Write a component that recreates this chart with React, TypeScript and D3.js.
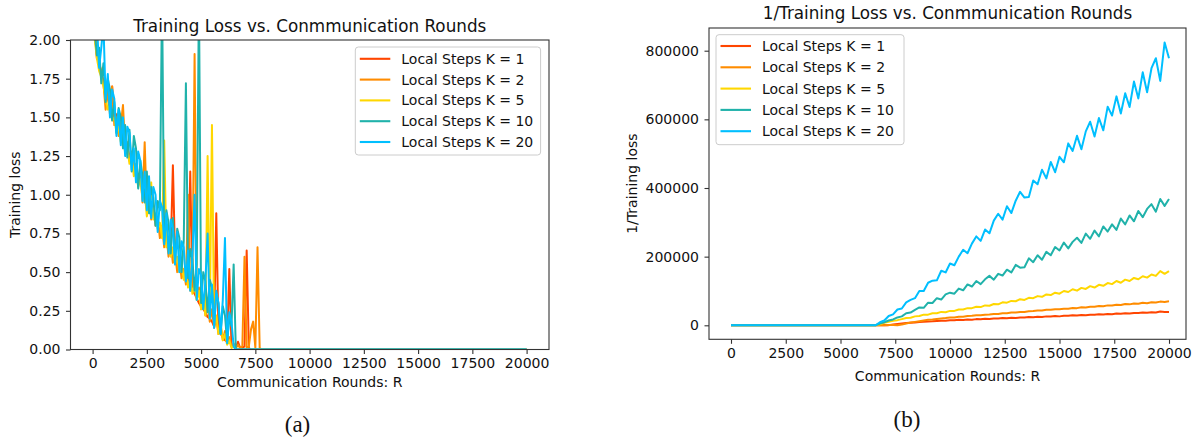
import * as d3 from "d3";
import { useRef, useEffect } from "react";

// series names + colours (matplotlib named colours)
const seriesLabels = [
  "Local Steps K = 1",
  "Local Steps K = 2",
  "Local Steps K = 5",
  "Local Steps K = 10",
  "Local Steps K = 20",
];
const seriesColors = ["#ff4500", "#ff8c00", "#ffd700", "#20b2aa", "#00bfff"];

const roundTicks = [0, 2500, 5000, 7500, 10000, 12500, 15000, 17500, 20000];
const lossTicks = [0, 0.25, 0.5, 0.75, 1, 1.25, 1.5, 1.75, 2];
const invTicks = [0, 200000, 400000, 600000, 800000];

// (a) training loss, sampled every 100 rounds up to 7900, then the flat tail
const lossRounds = [
  0, 100, 200, 300, 400, 500, 600, 700, 800, 900,
  1000, 1100, 1200, 1300, 1400, 1500, 1600, 1700, 1800, 1900,
  2000, 2100, 2200, 2300, 2400, 2500, 2600, 2700, 2800, 2900,
  3000, 3100, 3200, 3300, 3400, 3500, 3600, 3700, 3800, 3900,
  4000, 4100, 4200, 4300, 4400, 4500, 4600, 4700, 4800, 4900,
  5000, 5100, 5200, 5300, 5400, 5500, 5600, 5700, 5800, 5900,
  6000, 6100, 6200, 6300, 6400, 6500, 6600, 6700, 6800, 6900,
  7000, 7100, 7200, 7300, 7400, 7500, 7600, 7700, 7800, 7900,
  20000,
];
const lossK1 = [
  2.3, 2.05, 1.88, 1.86, 1.78, 1.74, 1.62, 1.65, 1.55, 1.7,
  1.48, 1.52, 1.4, 1.42, 1.36, 1.32, 1.3, 1.25, 1.22, 1.18,
  1.14, 1.1, 1.08, 1.04, 1.0, 1.05, 0.94, 0.9, 0.88, 0.84,
  0.82, 0.78, 0.76, 0.72, 0.7, 0.66, 0.64, 1.19, 0.6, 0.56,
  0.54, 0.5, 0.48, 0.45, 0.42, 1.15, 0.38, 0.36, 0.33, 0.3,
  0.28, 0.26, 0.24, 0.21, 0.2, 0.18, 0.15, 0.88, 0.12, 0.1,
  0.08, 0.06, 0.05, 0.52, 0.03, 0.02, 0.01, 0.05, 0.01, 0.01,
  0.02, 0.64, 0.01, 0, 0, 0, 0, 0, 0, 0,
  0,
];
const lossK2 = [
  2.35, 2.1, 1.9, 1.85, 1.8, 1.72, 1.55, 1.68, 1.52, 1.7,
  1.45, 1.5, 1.38, 1.45, 1.58, 1.3, 1.34, 1.22, 1.28, 1.16,
  1.2, 1.06, 1.15, 0.95, 1.34, 0.9, 0.98, 0.84, 0.92, 0.8,
  0.85, 0.72, 0.8, 0.66, 0.74, 0.6, 0.68, 0.56, 0.62, 0.5,
  0.58, 0.46, 0.52, 0.42, 1.0, 0.38, 0.44, 1.91, 0.32, 0.4,
  0.26, 0.34, 0.22, 0.3, 0.18, 0.26, 0.14, 0.2, 0.1, 0.16,
  0.06, 0.12, 0.04, 0.08, 0.02, 0.04, 0.01, 0.03, 0.01, 0.02,
  0.6, 0.01, 0.02, 0.13, 0.18, 0.01, 0.66, 0.01, 0, 0,
  0,
];
const lossK5 = [
  2.3, 2.0, 1.88, 1.8, 1.76, 1.7, 1.62, 1.55, 1.58, 1.48,
  1.5, 1.4, 1.44, 1.34, 1.38, 1.27, 1.3, 1.2, 1.25, 1.12,
  1.18, 1.05, 1.1, 0.98, 1.02, 0.86, 0.95, 1.08, 0.84, 0.88,
  0.78, 0.82, 0.72, 1.35, 0.66, 0.72, 0.6, 0.66, 0.55, 0.6,
  0.5, 0.56, 0.45, 0.52, 0.4, 0.46, 0.36, 0.42, 0.32, 0.38,
  0.26, 0.33, 0.22, 1.25, 0.2, 1.45, 0.15, 0.22, 0.1, 0.16,
  0.06, 0.1, 0.03, 0.06, 0.01, 0.02, 0, 0, 0, 0,
  0, 0, 0, 0, 0, 0, 0, 0, 0, 0,
  0,
];
const lossK10 = [
  2.3, 2.05, 1.9, 1.95, 1.72, 1.85, 1.6, 1.75, 1.68, 1.48,
  1.6, 1.4, 1.56, 1.5, 1.3, 1.45, 1.24, 1.42, 1.15, 1.38,
  1.3, 1.04, 1.22, 1.12, 0.95, 1.15, 0.88, 1.05, 0.98, 0.8,
  0.96, 0.9, 2.3, 0.7, 0.9, 0.82, 0.62, 0.85, 0.58, 0.78,
  0.72, 0.5, 0.7, 1.72, 0.46, 0.65, 0.58, 0.38, 0.55, 2.3,
  0.3, 0.5, 0.44, 0.24, 0.45, 0.4, 0.16, 0.36, 0.3, 0.1,
  0.28, 0.22, 0.05, 0.2, 0.15, 0.55, 0, 0, 0, 0,
  0, 0, 0, 0, 0, 0, 0, 0, 0, 0,
  0,
];
const lossK20 = [
  2.4, 2.2, 2.1, 1.82, 1.95, 2.1, 1.62, 1.78, 1.5, 1.68,
  1.62, 1.38, 1.55, 1.32, 1.5, 1.25, 1.44, 1.4, 1.16, 1.3,
  1.08, 1.28, 1.22, 0.96, 1.15, 0.9, 1.12, 0.85, 1.05, 1.0,
  0.76, 0.96, 0.92, 0.68, 0.88, 0.62, 0.84, 0.78, 0.55, 0.76,
  0.5, 0.7, 0.66, 0.44, 0.64, 0.38, 0.6, 1.0, 0.32, 0.52,
  0.48, 0.26, 0.45, 0.75, 0.2, 0.42, 0.14, 0.38, 0.3, 0.1,
  0.32, 0.72, 0.04, 0.24, 0.18, 0.02, 0, 0, 0, 0,
  0, 0, 0, 0, 0, 0, 0, 0, 0, 0,
  0,
];

// (b) 1/training loss, flat until ~6600 then sampled every 200 rounds
const invRounds = [
  0,
  6600, 6800, 7000, 7200, 7400, 7600, 7800, 8000, 8200, 8400,
  8600, 8800, 9000, 9200, 9400, 9600, 9800, 10000, 10200, 10400,
  10600, 10800, 11000, 11200, 11400, 11600, 11800, 12000, 12200, 12400,
  12600, 12800, 13000, 13200, 13400, 13600, 13800, 14000, 14200, 14400,
  14600, 14800, 15000, 15200, 15400, 15600, 15800, 16000, 16200, 16400,
  16600, 16800, 17000, 17200, 17400, 17600, 17800, 18000, 18200, 18400,
  18600, 18800, 19000, 19200, 19400, 19600, 19800, 20000,
];
const invK1 = [
  0,
  0, 300, 800, 500, 2000, 3500, 5000, 6500, 7500, 8500,
  9500, 10000, 11000, 11500, 12500, 13000, 13500, 14500, 14500, 16000,
  15500, 17000, 16500, 18000, 17500, 19000, 18500, 20000, 19500, 21000,
  20500, 22000, 21500, 23000, 22500, 24000, 23500, 25000, 24500, 26000,
  25500, 27000, 26000, 28000, 27500, 29000, 28500, 30000, 29500, 31000,
  30500, 32000, 31500, 33000, 32500, 34500, 33500, 35000, 34500, 36000,
  35500, 37000, 36500, 38000, 37500, 40000, 38500, 39000,
];
const invK2 = [
  0,
  0, 500, 200, 1000, 600, 300, 2000, 5000, 8000, 10000,
  12000, 14000, 16000, 17000, 18500, 20000, 21000, 22500, 23000, 25000,
  25000, 27000, 27500, 29000, 29000, 31000, 31500, 33000, 33000, 35000,
  35000, 37000, 37000, 39000, 39000, 41000, 41500, 43000, 43000, 45000,
  45000, 47000, 47000, 48500, 48500, 50500, 50000, 52500, 52000, 54000,
  54000, 56000, 55500, 58000, 57500, 60000, 59000, 62000, 61000, 63500,
  63000, 65500, 64500, 67000, 66500, 69000, 68000, 70000,
];
const invK5 = [
  0,
  0, 3000, 7000, 10000, 13000, 15000, 18000, 21000, 22000, 26000,
  27000, 31000, 31000, 35000, 35000, 39000, 38000, 42000, 42000, 46000,
  46000, 50000, 50000, 54000, 53000, 58000, 57000, 62000, 61000, 67000,
  66000, 71000, 70000, 76000, 74000, 80000, 79000, 85000, 83000, 90000,
  88000, 95000, 92000, 100000, 97000, 105000, 101000, 109000, 106000, 114000,
  110000, 118000, 115000, 123000, 120000, 129000, 124000, 133000, 129000, 138000,
  134000, 143000, 139000, 148000, 144000, 158000, 150000, 158000,
];
const invK10 = [
  0,
  0, 5000, 9000, 14000, 17000, 23000, 26000, 35000, 37000, 45000,
  52000, 51000, 66000, 65000, 79000, 75000, 90000, 95000, 92000, 107000,
  102000, 119000, 113000, 129000, 120000, 134000, 144000, 133000, 150000, 145000,
  162000, 154000, 176000, 168000, 169000, 195000, 184000, 204000, 191000, 214000,
  204000, 228000, 218000, 241000, 224000, 243000, 255000, 240000, 267000, 252000,
  276000, 259000, 288000, 273000, 294000, 278000, 311000, 294000, 320000, 303000,
  333000, 315000, 339000, 353000, 331000, 368000, 348000, 368000,
];
const invK20 = [
  0,
  0, 9000, 14000, 27000, 32000, 46000, 49000, 67000, 74000, 79000,
  100000, 100000, 124000, 130000, 131000, 159000, 154000, 180000, 175000, 200000,
  220000, 210000, 238000, 259000, 246000, 279000, 268000, 305000, 325000, 308000,
  347000, 327000, 363000, 389000, 372000, 374000, 422000, 411000, 453000, 428000,
  476000, 446000, 491000, 475000, 530000, 508000, 552000, 513000, 565000, 593000,
  550000, 604000, 568000, 637000, 611000, 667000, 617000, 676000, 636000, 710000,
  661000, 737000, 679000, 749000, 778000, 712000, 824000, 778000,
];

const FONT = "DejaVu Sans, sans-serif";

function Panel({
  id, xs, ys, frame, xRange, yDomain, yRange, yTicks, yFormat,
  title, titleY, yLabel, yLabelX, xLabelY, legend,
}) {
  const ref = useRef(null);
  const x = d3.scaleLinear().domain([0, 20000]).range(xRange);
  const y = d3.scaleLinear().domain(yDomain).range(yRange);
  const cx = (frame.left + frame.right) / 2;

  useEffect(() => {
    const g = d3.select(ref.current);
    g.select(".x-axis")
      .call(d3.axisBottom(x).tickValues(roundTicks).tickFormat(d3.format("d")).tickSize(4.5).tickPadding(4.5))
      .call((a) => a.select(".domain").remove())
      .attr("font-family", FONT)
      .attr("font-size", 14);
    g.select(".y-axis")
      .call(d3.axisLeft(y).tickValues(yTicks).tickFormat(yFormat).tickSize(4.5).tickPadding(5.5))
      .call((a) => a.select(".domain").remove())
      .attr("font-family", FONT)
      .attr("font-size", 14);
    g.selectAll(".tick line").attr("stroke", "#333").attr("stroke-width", 1.1);
    g.selectAll(".tick text").attr("fill", "#111");
  }, []);

  const line = d3.line().x((d) => x(d[0])).y((d) => y(d[1]));

  return (
    <g ref={ref}>
      <defs>
        <clipPath id={`clip-${id}`}>
          <rect x={frame.left} y={frame.top} width={frame.right - frame.left} height={frame.bottom - frame.top} />
        </clipPath>
      </defs>
      <g clipPath={`url(#clip-${id})`}>
        {ys.map((vals, i) => (
          <path
            key={i}
            d={line(xs.map((r, j) => [r, vals[j]]))}
            fill="none"
            stroke={seriesColors[i]}
            strokeWidth={2}
            strokeLinejoin="round"
          />
        ))}
      </g>
      <rect
        x={frame.left} y={frame.top}
        width={frame.right - frame.left} height={frame.bottom - frame.top}
        fill="none" stroke="#333" strokeWidth={1.1}
      />
      <g className="x-axis" transform={`translate(0,${frame.bottom})`} />
      <g className="y-axis" transform={`translate(${frame.left},0)`} />
      <text x={cx} y={titleY} textAnchor="middle" fontFamily={FONT} fontSize={16.8} fill="#111">{title}</text>
      <text x={cx} y={xLabelY} textAnchor="middle" fontFamily={FONT} fontSize={14} fill="#111">Communication Rounds: R</text>
      <text
        transform={`translate(${yLabelX},${(frame.top + frame.bottom) / 2}) rotate(-90)`}
        textAnchor="middle" fontFamily={FONT} fontSize={14} fill="#111"
      >{yLabel}</text>
      <g>
        <rect
          x={legend.x} y={legend.y} width={legend.w} height={legend.h} rx={3}
          fill="#fff" fillOpacity={0.8} stroke="#ccc" strokeWidth={1}
        />
        {seriesLabels.map((lab, i) => {
          const ry = legend.row0 + i * legend.step;
          return (
            <g key={lab}>
              <line x1={legend.x + 4.5} x2={legend.x + 35} y1={ry} y2={ry} stroke={seriesColors[i]} strokeWidth={2.1} />
              <text x={legend.x + 46} y={ry + 5} fontFamily={FONT} fontSize={14} fill="#111">{lab}</text>
            </g>
          );
        })}
      </g>
    </g>
  );
}

export default function App() {
  return (
    <svg width={1195} height={440} style={{ position: "absolute", left: 0, top: 0, display: "block", background: "#fff" }}>
      <Panel
        id="a"
        xs={lossRounds}
        ys={[lossK1, lossK2, lossK5, lossK10, lossK20]}
        frame={{ left: 70.5, right: 549, top: 40, bottom: 349.5 }}
        xRange={[92.6, 526.6]}
        yDomain={[0, 2]}
        yRange={[349.5, 40]}
        yTicks={lossTicks}
        yFormat={d3.format(".2f")}
        title="Training Loss vs. Conmmunication Rounds"
        titleY={31.5}
        yLabel="Training loss"
        yLabelX={20}
        xLabelY={387}
        legend={{ x: 355.3, y: 47, w: 185.3, h: 108, row0: 58.8, step: 20.8 }}
      />
      <Panel
        id="b"
        xs={invRounds}
        ys={[invK1, invK2, invK5, invK10, invK20]}
        frame={{ left: 709, right: 1186, top: 28, bottom: 339.3 }}
        xRange={[731, 1169]}
        yDomain={[0, 800000]}
        yRange={[325.3, 50.7]}
        yTicks={invTicks}
        yFormat={d3.format("d")}
        title="1/Training Loss vs. Conmmunication Rounds"
        titleY={19}
        yLabel="1/Training loss"
        yLabelX={636.5}
        xLabelY={381}
        legend={{ x: 716, y: 34.7, w: 188, h: 110, row0: 46, step: 21.3 }}
      />
      <text x={297.5} y={432} textAnchor="middle" fontFamily="Liberation Serif, serif" fontSize={23} fill="#111">(a)</text>
      <text x={907} y={427} textAnchor="middle" fontFamily="Liberation Serif, serif" fontSize={23} fill="#111">(b)</text>
    </svg>
  );
}
